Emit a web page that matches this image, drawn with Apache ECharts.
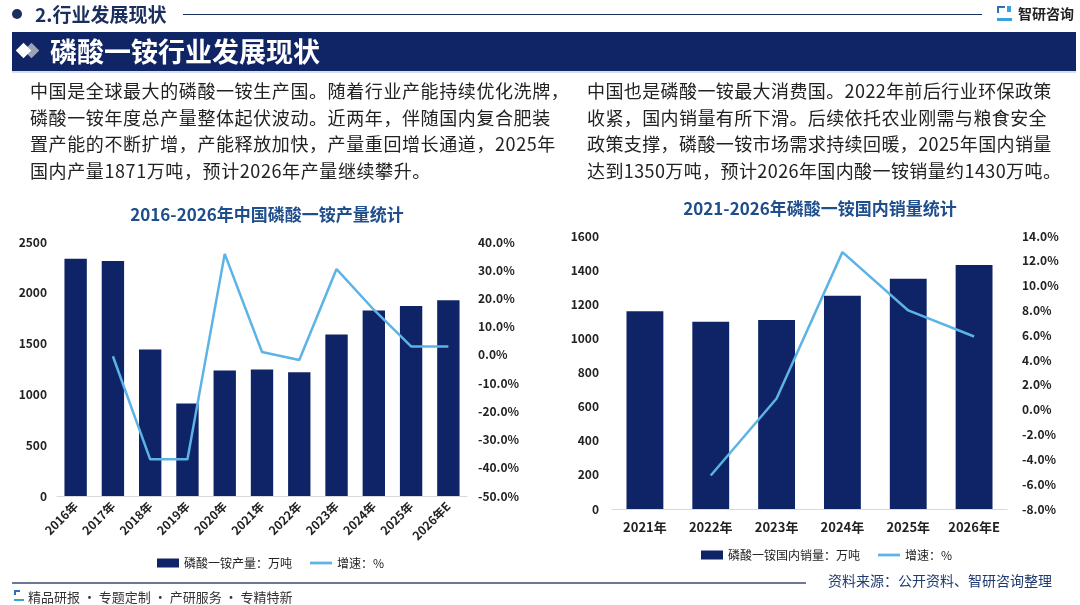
<!DOCTYPE html>
<html>
<head>
<meta charset="utf-8">
<script src="https://cdn.jsdelivr.net/npm/echarts@6/dist/echarts.min.js"></script>
<style>
  html,body{margin:0;padding:0;background:#fff;}
  body{width:1080px;height:605px;position:relative;overflow:hidden;font-family:"Noto Sans CJK SC","Noto Sans",sans-serif;}
  #chart{position:absolute;left:0;top:0;width:1080px;height:605px;}
  .ov{position:absolute;white-space:nowrap;z-index:2;}
  .para{font-size:18px;line-height:26.7px;color:#222;letter-spacing:0.6px;}
</style>
</head>
<body>
<div id="chart"></div>
<!-- header -->
<div class="ov" style="left:12px;top:9px;width:10px;height:10px;border-radius:50%;background:#1b2f5e;"></div>
<div class="ov" style="left:35px;top:0px;font-size:19px;font-weight:bold;color:#1b2f5e;">2.行业发展现状</div>
<div class="ov" style="left:183px;top:14px;width:799px;height:1px;background:#1b2f5e;"></div>
<div class="ov" style="left:997px;top:6px;width:15px;height:15px;">
  <div style="position:absolute;left:0;top:0;width:8px;height:7px;border:2px solid #2f6fc0;border-right:none;border-bottom:none;box-sizing:border-box;"></div>
  <div style="position:absolute;left:0;top:7px;width:15px;height:8px;border-bottom:3px solid #3aa0e0;box-sizing:border-box;"></div>
  <div style="position:absolute;left:10px;top:0;width:4px;height:6px;background:#3aa0e0;"></div>
</div>
<div class="ov" style="left:1018px;top:3px;font-size:14px;font-weight:bold;color:#222;">智研咨询</div>
<div class="ov" style="left:12px;top:32px;width:1064px;height:39px;background:#0f2566;border-bottom:2px solid #d6deef;"></div>
<div class="ov" style="left:18px;top:45px;width:11px;height:11px;background:#ffffff;transform:rotate(45deg);z-index:4;"></div>
<div class="ov" style="left:26px;top:45px;width:11px;height:11px;background:#9aa3b8;transform:rotate(45deg);z-index:3;"></div>
<div class="ov" style="left:50px;top:31px;font-size:27px;font-weight:bold;color:#fff;line-height:40px;">磷酸一铵行业发展现状</div>
<!-- paragraphs -->
<div class="ov para" style="left:30px;top:77px;">中国是全球最大的磷酸一铵生产国。随着行业产能持续优化洗牌，<br>磷酸一铵年度总产量整体起伏波动。近两年，伴随国内复合肥装<br>置产能的不断扩增，产能释放加快，产量重回增长通道，2025年<br>国内产量1871万吨，预计2026年产量继续攀升。</div>
<div class="ov para" style="left:587px;top:77px;letter-spacing:0.4px;">中国也是磷酸一铵最大消费国。2022年前后行业环保政策<br>收紧，国内销量有所下滑。后续依托农业刚需与粮食安全<br>政策支撑，磷酸一铵市场需求持续回暖，2025年国内销量<br>达到1350万吨，预计2026年国内酸一铵销量约1430万吨。</div>
<!-- footer -->
<div class="ov" style="left:12px;top:582px;width:794px;height:2px;background:#6b7a92;"></div>
<div class="ov" style="left:828px;top:570px;font-size:14px;color:#1f3a70;">资料来源：公开资料、智研咨询整理</div>
<div class="ov" style="left:14px;top:590px;width:10px;height:11px;">
  <div style="position:absolute;left:0;top:0;width:6px;height:5px;border:2px solid #2f6fc0;border-right:none;border-bottom:none;box-sizing:border-box;"></div>
  <div style="position:absolute;left:0;top:5px;width:10px;height:6px;border-bottom:2px solid #3aa0e0;box-sizing:border-box;"></div>
</div>
<div class="ov" style="left:28px;top:587px;font-size:13px;color:#333;">精品研报 · 专题定制 · 产研服务 · 专精特新</div>
<script>
// ---- data ----
var prodYears = ['2016年','2017年','2018年','2019年','2020年','2021年','2022年','2023年','2024年','2025年','2026年E'];
var production = [2336, 2313, 1442, 911, 1235, 1245, 1219, 1589, 1825, 1871, 1926];
var prodGrowth = [null, -0.5, -37.0, -37.0, 35.8, 1.0, -1.8, 30.4, 16.0, 3.0, 3.0];

var salesYears = ['2021年','2022年','2023年','2024年','2025年','2026年E'];
var sales = [1159, 1098, 1108, 1250, 1350, 1430];
var salesGrowth = [null, -5.3, 0.9, 12.7, 8.0, 5.9];

var prodTicksLeft = [0, 2500, 500];   // min, max, interval
var prodTicksRight = [-50, 40, 10];
var salesTicksLeft = [0, 1600, 200];
var salesTicksRight = [-8, 14, 2];

var prodBarName = '磷酸一铵产量：万吨';
var salesBarName = '磷酸一铵国内销量：万吨';
var growthName = '增速：%';
var titleLeft = '2016-2026年中国磷酸一铵产量统计';
var titleRight = '2021-2026年磷酸一铵国内销量统计';

// ---- chart ----
var BAR = '#0e2466', LINE = '#5cb3e6';
var FONT = '"Noto Sans CJK SC","Noto Sans",sans-serif';
var lbl = {color:'#222', fontWeight:'bold', fontSize:12, fontFamily:FONT};
function pct(v){return v.toFixed(1)+'%';}
function plain(v){return String(v);}
function yAx(gi, t, pos, fmt, margin){
  return {type:'value', gridIndex:gi, position:pos, min:t[0], max:t[1], interval:t[2],
    splitLine:{show:false}, axisLine:{show:false}, axisTick:{show:false},
    axisLabel:Object.assign({margin:margin, formatter:fmt}, lbl)};
}
var lineIcon = 'path://M0,0L24,0L24,3L0,3Z';
var chart = echarts.init(document.getElementById('chart'), null, {renderer:'canvas'});
chart.setOption({
  animation:false,
  textStyle:{fontFamily:FONT},
  title:[
    {text:titleLeft, left:262, top:201, textAlign:'center',
     textStyle:{color:'#1f4e8c', fontSize:17, fontWeight:'bold', fontFamily:FONT}},
    {text:titleRight, left:815, top:195, textAlign:'center',
     textStyle:{color:'#1f4e8c', fontSize:17, fontWeight:'bold', fontFamily:FONT}}
  ],
  legend:[
    {left:152, top:552, itemGap:18, itemWidth:22, itemHeight:9,
     data:[{name:prodBarName, icon:'rect'},{name:growthName, icon:lineIcon}],
     textStyle:{color:'#222', fontSize:12, fontFamily:FONT}},
    {left:696, top:544, itemGap:18, itemWidth:22, itemHeight:9,
     data:[{name:salesBarName, icon:'rect'},{name:growthName, icon:lineIcon}],
     textStyle:{color:'#222', fontSize:12, fontFamily:FONT}}
  ],
  grid:[
    {left:57, right:613, top:242, bottom:109},
    {left:612, right:73, top:236, bottom:96}
  ],
  xAxis:[
    {type:'category', gridIndex:0, data:prodYears, axisTick:{show:false},
     axisLine:{lineStyle:{color:'#d9d9d9'}},
     axisLabel:Object.assign({rotate:45, margin:8, interval:0}, lbl)},
    {type:'category', gridIndex:1, data:salesYears, axisTick:{show:false},
     axisLine:{lineStyle:{color:'#d9d9d9'}},
     axisLabel:Object.assign({margin:12, interval:0}, lbl, {fontSize:13})}
  ],
  yAxis:[
    yAx(0, prodTicksLeft, 'left', plain, 10),
    yAx(0, prodTicksRight, 'right', pct, 11),
    yAx(1, salesTicksLeft, 'left', plain, 13),
    yAx(1, salesTicksRight, 'right', pct, 15)
  ],
  series:[
    {name:prodBarName, type:'bar', xAxisIndex:0, yAxisIndex:0, data:production,
     barCategoryGap:'40%', itemStyle:{color:BAR}},
    {name:growthName, type:'line', xAxisIndex:0, yAxisIndex:1, data:prodGrowth,
     symbol:'none', lineStyle:{color:LINE, width:2.5}, itemStyle:{color:LINE}},
    {name:salesBarName, type:'bar', xAxisIndex:1, yAxisIndex:2, data:sales,
     barCategoryGap:'44%', itemStyle:{color:BAR}},
    {name:growthName, type:'line', xAxisIndex:1, yAxisIndex:3, data:salesGrowth,
     symbol:'none', lineStyle:{color:LINE, width:2.5}, itemStyle:{color:LINE}}
  ]
});
</script>
</body>
</html>
